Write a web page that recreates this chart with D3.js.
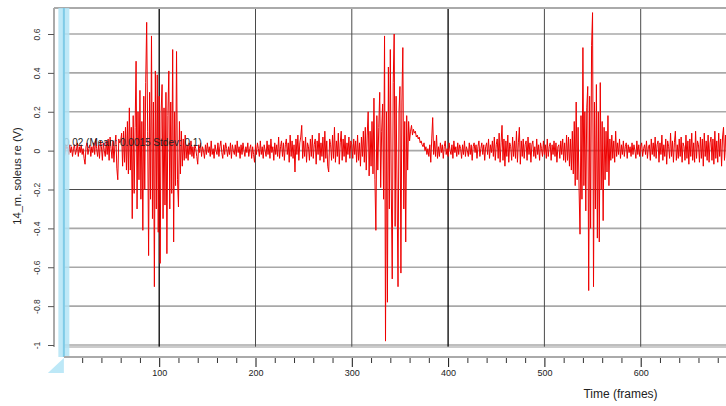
<!DOCTYPE html>
<html><head><meta charset="utf-8">
<script src="https://cdn.jsdelivr.net/npm/d3@7"></script>
<style>html,body{margin:0;padding:0;background:#fff;overflow:hidden}</style>
</head><body>
<svg id="c" width="726" height="406"></svg>
<script>
// EMG signal, one value per frame (V), frames 0..689
const signal = [
-0.01,-0.05,-0.02,0.03,0.01,0.02,-0.02,0.03,-0.01,0.02,
-0.03,0.01,0.03,-0.02,0.00,0.04,-0.03,0.02,-0.01,0.03,
-0.02,0.01,-0.04,-0.07,0.02,0.04,-0.02,0.01,0.03,-0.03,
0.02,-0.01,0.04,-0.02,0.06,0.01,-0.03,0.03,-0.04,0.05,
0.02,-0.05,0.04,0.00,-0.03,0.05,-0.02,0.06,-0.05,0.07,
0.01,-0.04,0.05,-0.06,0.03,0.08,-0.09,-0.15,0.06,0.04,
0.05,0.09,-0.08,0.10,-0.06,0.12,-0.10,0.15,-0.12,0.22,
-0.10,0.12,-0.35,0.18,-0.22,0.12,0.46,-0.30,0.20,-0.15,
0.31,-0.25,0.15,-0.41,0.28,-0.20,0.35,0.66,0.10,-0.54,
0.30,-0.25,0.59,-0.35,0.25,-0.70,0.41,-0.30,0.39,-0.42,
0.28,-0.58,0.20,0.34,-0.35,0.22,-0.28,0.30,-0.53,0.18,
0.41,-0.30,0.25,-0.22,0.52,-0.47,0.20,-0.18,0.51,-0.15,
-0.29,0.15,-0.12,0.10,-0.08,0.06,-0.05,0.08,-0.04,0.03,
-0.05,0.04,-0.02,0.05,-0.03,0.02,-0.04,0.03,0.01,-0.03,
-0.07,0.03,-0.01,0.04,-0.03,0.02,0.00,-0.04,0.03,-0.02,
0.04,-0.01,0.02,-0.03,0.05,-0.02,0.01,-0.04,0.03,0.00,
-0.02,0.04,-0.03,0.02,0.05,-0.01,-0.04,0.03,-0.02,0.04,
0.01,-0.03,0.02,-0.02,0.04,-0.04,0.03,0.00,-0.02,0.03,
-0.03,0.05,-0.01,0.02,-0.04,0.03,-0.02,0.04,0.00,-0.03,
0.02,-0.01,0.04,-0.03,0.01,0.03,-0.04,0.02,-0.02,-0.06,
0.03,-0.02,0.04,0.01,-0.03,0.05,-0.02,0.02,-0.04,0.03,
0.00,-0.03,0.05,-0.02,0.03,-0.04,0.06,-0.01,0.02,-0.05,
0.04,-0.02,0.03,-0.03,0.07,-0.04,0.02,0.05,-0.03,0.04,
-0.05,0.03,0.06,-0.02,0.04,-0.06,0.08,-0.03,0.05,-0.04,
0.03,-0.11,0.06,-0.02,0.08,-0.05,0.04,0.07,0.13,-0.04,
0.05,-0.03,0.07,-0.06,0.04,0.02,-0.05,0.06,-0.03,0.08,
-0.04,0.03,0.06,-0.07,0.05,-0.02,0.09,-0.05,0.04,-0.03,
0.07,-0.06,0.10,-0.04,0.05,-0.08,-0.11,0.06,0.03,-0.05,
0.08,-0.04,0.12,-0.06,0.05,-0.03,0.09,-0.07,0.04,0.10,
-0.05,0.06,-0.03,0.08,-0.06,0.04,-0.02,0.07,-0.04,0.05,
0.03,-0.04,0.06,-0.02,0.05,-0.06,0.08,-0.05,0.04,-0.08,
0.07,-0.03,0.10,-0.06,0.12,-0.10,0.08,0.20,-0.13,0.10,
-0.08,0.15,-0.12,0.27,-0.15,-0.41,0.18,-0.10,0.12,0.30,
-0.19,0.10,0.24,-0.25,0.59,-0.98,0.20,-0.78,0.43,-0.30,
0.52,-0.20,-0.66,0.35,0.60,-0.39,0.28,-0.20,-0.70,0.20,
0.33,-0.63,0.25,0.53,-0.30,0.15,-0.47,0.18,-0.10,0.15,
0.05,0.10,0.13,0.08,0.11,0.09,0.10,0.07,0.08,0.06,
0.07,0.04,0.05,0.03,0.02,0.04,0.00,0.02,-0.02,0.01,
-0.03,0.03,-0.06,0.06,0.17,-0.02,0.05,-0.03,0.08,-0.04,
0.02,-0.03,0.04,-0.01,0.03,-0.04,0.02,0.05,-0.02,0.01,
-0.03,0.04,0.00,-0.02,0.03,-0.04,0.05,-0.01,0.02,-0.03,
0.04,-0.02,0.03,0.01,-0.04,0.03,-0.02,0.05,-0.03,0.02,
0.00,-0.03,0.04,-0.02,0.03,-0.05,0.02,0.04,-0.01,0.03,
-0.04,0.02,0.05,-0.03,0.01,0.04,-0.02,0.03,-0.05,0.02,
0.04,-0.02,0.06,-0.04,0.03,-0.01,0.05,-0.03,0.07,-0.05,
0.03,0.06,-0.04,0.09,-0.06,0.04,0.13,-0.05,0.06,-0.08,
0.05,-0.03,0.08,-0.06,0.04,0.02,-0.05,0.07,-0.03,0.05,
-0.04,0.10,-0.06,0.04,0.12,-0.07,0.05,-0.03,0.06,-0.04,
0.03,0.05,-0.05,0.07,-0.02,0.04,-0.06,0.03,0.05,-0.03,
0.02,-0.04,0.06,-0.02,0.03,-0.05,0.04,0.01,-0.03,0.05,
-0.02,0.03,-0.04,0.06,-0.03,0.02,0.04,-0.05,0.03,-0.02,
0.05,-0.03,0.04,-0.06,0.02,0.03,-0.04,0.05,-0.02,0.06,
-0.05,0.04,-0.06,0.08,-0.05,0.07,-0.08,0.06,-0.10,0.10,
-0.12,0.15,-0.18,0.25,-0.15,0.12,-0.20,-0.43,0.18,-0.25,
0.53,-0.18,0.20,-0.31,0.22,0.33,-0.72,0.28,-0.40,0.54,
0.71,-0.70,0.25,-0.30,0.34,-0.45,0.20,-0.47,0.35,-0.20,
0.15,-0.36,0.12,-0.15,0.10,-0.11,0.18,-0.18,0.06,-0.05,
0.08,-0.04,0.05,-0.06,0.10,-0.03,0.04,-0.02,0.06,-0.04,
0.03,-0.02,0.05,-0.03,0.02,0.04,-0.04,0.03,-0.01,0.02,
-0.03,0.04,-0.02,0.03,0.00,-0.04,0.05,-0.02,0.03,-0.03,
0.02,0.04,-0.03,0.01,0.03,-0.02,0.05,-0.04,0.02,0.03,
-0.05,0.06,-0.02,0.04,-0.03,0.07,-0.04,0.03,0.05,-0.06,
0.04,-0.02,0.08,-0.05,0.03,-0.03,0.06,-0.07,0.05,0.02,
-0.04,0.09,-0.03,0.05,-0.06,0.04,0.10,-0.05,0.03,-0.04,
0.06,-0.03,0.07,-0.06,0.04,0.02,-0.05,0.08,-0.04,0.05,
-0.07,0.06,-0.03,0.09,-0.05,0.04,-0.06,0.10,-0.04,0.05,
0.03,-0.06,0.07,-0.04,0.06,-0.08,0.09,-0.03,0.05,-0.05,
0.08,-0.06,0.04,0.07,-0.05,0.06,-0.07,0.10,-0.04,0.05,
-0.06,0.09,-0.03,0.06,-0.08,0.07,0.12,-0.05,0.08,-0.04
];
const xMajorTicks = [100, 200, 300, 400, 500, 600];
const xMinorStep = 20;
const yTicks = [0.6, 0.4, 0.2, 0, -0.2, -0.4, -0.6, -0.8, -1];
const yTickLabels = ["0.6", "0.4", "0.2", "0", "-0.2", "-0.4", "-0.6", "-0.8", "-1"];
const darkVerticals = [100, 400];
const darkHorizontal = -0.2;
const cursorFrame = 1;
const annotation = "0.02 (Mean: 0.0015 Stdev: 0.1)";
const xLabel = "Time (frames)";
const yLabel = "14_m. soleus re (V)";

const svg = d3.select("#c");
const font = "'Liberation Sans', Arial, sans-serif";
const plotL = 64, plotT = 8, plotR = 726, plotB = 347;

const x = d3.scaleLinear().domain([0, 600]).range([62.9, 640.7]);
const y = d3.scaleLinear().domain([-1, 0.6]).range([345, 34]);

// horizontal grid
svg.append("g").selectAll("line").data(yTicks).join("line")
  .attr("x1", plotL).attr("x2", plotR)
  .attr("y1", d => y(d)).attr("y2", d => y(d))
  .attr("stroke", d => d === darkHorizontal ? "#4a4a4a" : "#a8a8a8")
  .attr("stroke-width", d => d === darkHorizontal ? 1 : 1.6);

// vertical grid
svg.append("g").selectAll("line").data(xMajorTicks).join("line")
  .attr("x1", d => x(d)).attr("x2", d => x(d))
  .attr("y1", plotT).attr("y2", plotB)
  .attr("stroke", d => darkVerticals.includes(d) ? "#000" : "#4a4a4a")
  .attr("stroke-width", d => darkVerticals.includes(d) ? 1.3 : 1);

// frame lines
svg.append("line").attr("x1", 54).attr("x2", plotR).attr("y1", plotT).attr("y2", plotT)
  .attr("stroke", "#aaa").attr("stroke-width", 2);
svg.append("line").attr("x1", plotL).attr("x2", plotL).attr("y1", plotT).attr("y2", plotB)
  .attr("stroke", "#999").attr("stroke-width", 1);
svg.append("line").attr("x1", plotL).attr("x2", plotR).attr("y1", plotB).attr("y2", plotB)
  .attr("stroke", "#999").attr("stroke-width", 1);

// signal
svg.append("clipPath").attr("id", "clip").append("rect")
  .attr("x", plotL).attr("y", plotT).attr("width", plotR - plotL).attr("height", plotB - plotT);
const line = d3.line().x((d, i) => x(i)).y(d => y(d));
svg.append("path").datum(signal)
  .attr("clip-path", "url(#clip)")
  .attr("d", line)
  .attr("fill", "none")
  .attr("stroke", "#ee0000")
  .attr("stroke-width", 1)
  .attr("stroke-linejoin", "miter");

// annotation
svg.append("text").attr("x", x(cursorFrame)).attr("y", 146)
  .attr("font-family", font).attr("font-size", 10).attr("fill", "#222")
  .text(annotation);

// cursor band
const cx = x(cursorFrame);
svg.append("rect").attr("x", cx - 5.5).attr("y", plotT).attr("width", 11).attr("height", 357 - plotT)
  .attr("fill", "#b3e4f6").attr("opacity", 0.85);
svg.append("line").attr("x1", cx).attr("x2", cx).attr("y1", plotT).attr("y2", 357)
  .attr("stroke", "#7fcbe7").attr("stroke-width", 2);
svg.append("path").attr("d", `M${cx - 16},373 L${cx},358 L${cx},373 Z`)
  .attr("fill", "#bde8f7");

// y axis
svg.append("line").attr("x1", 54).attr("x2", 54).attr("y1", plotT).attr("y2", plotB)
  .attr("stroke", "#aaa").attr("stroke-width", 2);
const yAxis = svg.append("g").attr("transform", "translate(54,0)")
  .call(d3.axisLeft(y).tickValues(yTicks).tickSize(6).tickFormat((d, i) => yTickLabels[i]));
yAxis.select(".domain").remove();
yAxis.selectAll(".tick line").attr("stroke", "#555");
yAxis.selectAll(".tick text")
  .attr("x", null).attr("dy", null)
  .attr("transform", "translate(-14,0) rotate(-90)")
  .attr("text-anchor", "middle")
  .attr("font-family", font).attr("font-size", 8.5).attr("fill", "#333");

// x axis
svg.append("line").attr("x1", plotL).attr("x2", plotR).attr("y1", 357).attr("y2", 357)
  .attr("stroke", "#aaa").attr("stroke-width", 2);
const minorTicks = d3.range(xMinorStep, 700, xMinorStep).filter(v => v % 100 !== 0);
const xMinor = svg.append("g").attr("transform", "translate(0,358)")
  .call(d3.axisBottom(x).tickValues(minorTicks).tickSize(5).tickFormat(""));
xMinor.select(".domain").remove();
xMinor.selectAll(".tick line").attr("stroke", "#333");
const xMajor = svg.append("g").attr("transform", "translate(0,358)")
  .call(d3.axisBottom(x).tickValues(xMajorTicks).tickSize(9).tickPadding(3).tickFormat(d3.format("d")));
xMajor.select(".domain").remove();
xMajor.selectAll(".tick line").attr("stroke", "#111");
xMajor.selectAll(".tick text").attr("font-family", font).attr("font-size", 9).attr("fill", "#222");

// axis labels
svg.append("text").attr("x", 620.5).attr("y", 398).attr("text-anchor", "middle")
  .attr("font-family", font).attr("font-size", 12).attr("fill", "#222").text(xLabel);
svg.append("text").attr("transform", "translate(20.5,176) rotate(-90)").attr("text-anchor", "middle")
  .attr("font-family", font).attr("font-size", 11.2).attr("fill", "#222").text(yLabel);
</script>
</body></html>
